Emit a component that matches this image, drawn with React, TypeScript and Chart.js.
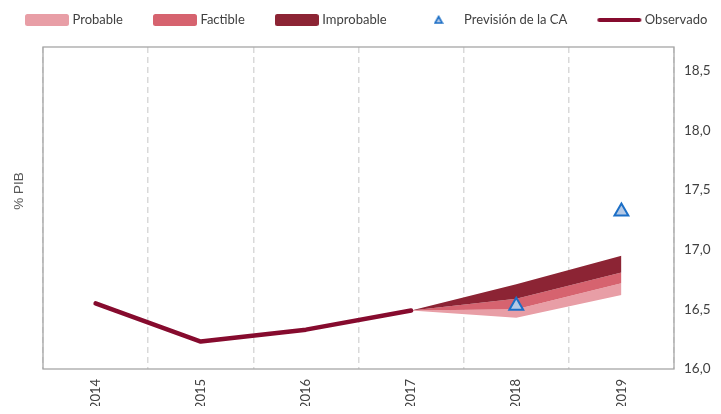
import { useEffect, useRef } from 'react';
import { Chart, registerables } from 'chart.js';

Chart.register(...registerables);

// ---- data ----
const categories = ['2014', '2015', '2016', '2017', '2018', '2019'];
const observado = [16.55, 16.23, 16.33, 16.49, null, null];
const probableLow = [null, null, null, 16.49, 16.43, 16.62];
const probableHigh = [null, null, null, 16.49, 16.5, 16.72];
const factibleHigh = [null, null, null, 16.49, 16.59, 16.81];
const improbableHigh = [null, null, null, 16.49, 16.71, 16.95];
const prevision = [null, null, null, null, 16.53, 17.32];
const yTicks = [16, 16.5, 17, 17.5, 18, 18.5];
const seriesNames = ['Probable', 'Factible', 'Improbable', 'Previsión de la CA', 'Observado'];

// ---- styles ----
const C_PROB = '#e89ea6';
const C_FACT = '#d6636f';
const C_IMPR = '#8c2434';
const C_OBS = '#860b2e';
const C_TRI_FILL = '#b4c9e6';
const C_TRI_LINE = '#1c6fc6';
const TEXT = '#404040';
const FONT = 'Lato, "DejaVu Sans", sans-serif';

const LEG_PAD = 33;
const LEG_X = 20;
const LEG_CY = 12;

function swatchRect(color: string) {
  const c = document.createElement('canvas');
  c.width = 44; c.height = 12;
  const x = c.getContext('2d')!;
  x.fillStyle = color;
  x.beginPath();
  (x as any).roundRect(0, 0, 44, 12, 2.5);
  x.fill();
  return c;
}
function swatchLine(color: string) {
  const c = document.createElement('canvas');
  c.width = 46; c.height = 6;
  const x = c.getContext('2d')!;
  x.strokeStyle = color; x.lineWidth = 4; x.lineCap = 'round';
  x.beginPath(); x.moveTo(3, 3); x.lineTo(43, 3); x.stroke();
  return c;
}
function swatchTri() {
  const c = document.createElement('canvas');
  c.width = 10; c.height = 10;
  const x = c.getContext('2d')!;
  x.fillStyle = C_TRI_FILL; x.strokeStyle = C_TRI_LINE; x.lineWidth = 1.6;
  x.beginPath(); x.moveTo(5, 1.5); x.lineTo(8.6, 8); x.lineTo(1.4, 8); x.closePath();
  x.fill(); x.stroke();
  return c;
}

export default function App() {
  const ref = useRef<HTMLCanvasElement>(null);
  useEffect(() => {
    const canvas = ref.current!;
    const swatches = [swatchRect(C_PROB), swatchRect(C_FACT), swatchRect(C_IMPR), swatchTri(), swatchLine(C_OBS)];
    const colors = [C_PROB, C_FACT, C_IMPR, C_TRI_FILL, C_OBS];
    const dsIndex = [1, 2, 3, 4, 5];

    const legendTweak = {
      id: 'legendTweak',
      beforeInit(chart: any) {
        const legend = chart.legend;
        if (!legend) return;
        const orig = legend.fit;
        legend.fit = function () {
          const mw = this.maxWidth;
          this.maxWidth = 5000;
          orig.call(this);
          this.maxWidth = mw;
          this.width = mw;
          this.height = 39;
        };
      },
      afterLayout(chart: any) {
        const l = chart.legend;
        if (!l) return;
        l.left = LEG_X - LEG_PAD;
        l.right = 5000;
        l.top = LEG_CY - 6.5 - LEG_PAD;
      },
    };

    const frame = {
      id: 'frame',
      afterDraw(chart: any) {
        const { ctx, chartArea: a } = chart;
        ctx.save();
        ctx.strokeStyle = '#a6a6a6';
        ctx.lineWidth = 1.3;
        ctx.strokeRect(a.left, a.top, a.right - a.left, a.bottom - a.top);
        ctx.translate(11, 183);
        ctx.rotate(-Math.PI / 2);
        ctx.font = '13.5px "Liberation Sans", Arial, sans-serif';
        ctx.fillStyle = '#595959';
        ctx.textAlign = 'center';
        ctx.textBaseline = 'middle';
        ctx.fillText('% PIB', 0, 0);
        ctx.restore();
      },
    };

    const band = (data: (number | null)[], color: string, fill: any, order: number, label: string) => ({
      type: 'line' as const,
      label,
      data,
      borderColor: 'rgba(0,0,0,0)',
      borderWidth: 0,
      backgroundColor: color,
      pointRadius: 0,
      fill,
      tension: 0,
      order,
    });

    const chart = new Chart(canvas, {
      type: 'line',
      data: {
        labels: categories,
        datasets: [
          band(probableLow, 'rgba(0,0,0,0)', false, 6, 'base'),
          band(probableHigh, C_PROB, 0, 5, seriesNames[0]),
          band(factibleHigh, C_FACT, 1, 4, seriesNames[1]),
          band(improbableHigh, C_IMPR, 2, 3, seriesNames[2]),
          {
            type: 'line',
            label: seriesNames[3],
            data: prevision,
            showLine: false,
            pointStyle: 'triangle',
            pointRadius: 8,
            pointBorderWidth: 2,
            pointBackgroundColor: C_TRI_FILL,
            pointBorderColor: C_TRI_LINE,
            order: 0,
          },
          {
            type: 'line',
            label: seriesNames[4],
            data: observado,
            borderColor: C_OBS,
            borderWidth: 4.5,
            borderCapStyle: 'round',
            borderJoinStyle: 'round',
            pointRadius: 0,
            fill: false,
            tension: 0,
            order: 1,
          },
        ] as any,
      },
      options: {
        responsive: false,
        animation: false,
        layout: { padding: { left: 35, top: 0, right: 0, bottom: 0 } },
        scales: {
          x: {
            type: 'category',
            offset: true,
            grid: { display: true, offset: true, color: '#d9d9d9', lineWidth: 1.5, drawTicks: false },
            border: { display: false, dash: [6, 4] },
            ticks: { minRotation: 90, maxRotation: 90, padding: 10, color: TEXT, font: { family: FONT, size: 13 } },
            afterFit: (s: any) => { s.height = 37; },
          },
          y: {
            type: 'linear',
            position: 'right',
            min: 16,
            max: 18.7,
            grid: { display: false, drawTicks: false },
            border: { display: false },
            afterBuildTicks: (s: any) => { s.ticks = yTicks.map((v) => ({ value: v })); },
            ticks: {
              padding: 10,
              color: TEXT,
              font: { family: FONT, size: 13.5 },
              callback: (v: any) => Number(v).toFixed(1).replace('.', ','),
            },
            afterFit: (s: any) => { s.width = 39; },
          },
        },
        plugins: {
          tooltip: { enabled: false },
          legend: {
            display: true,
            position: 'top',
            align: 'start',
            labels: {
              usePointStyle: true,
              pointStyleWidth: 38,
              boxHeight: 12,
              padding: LEG_PAD,
              color: TEXT,
              font: { family: FONT, size: 13 },
              generateLabels: () =>
                seriesNames.map((name, i) => ({
                  text: name,
                  pointStyle: swatches[i] as any,
                  fillStyle: colors[i],
                  strokeStyle: colors[i],
                  lineWidth: 0,
                  hidden: false,
                  datasetIndex: dsIndex[i],
                  fontColor: TEXT,
                })),
            },
          },
        },
      } as any,
      plugins: [legendTweak, frame],
    });
    return () => chart.destroy();
  }, []);
  return <canvas ref={ref} width={705} height={398} style={{ display: 'block', width: 705, height: 398 }} />;
}
